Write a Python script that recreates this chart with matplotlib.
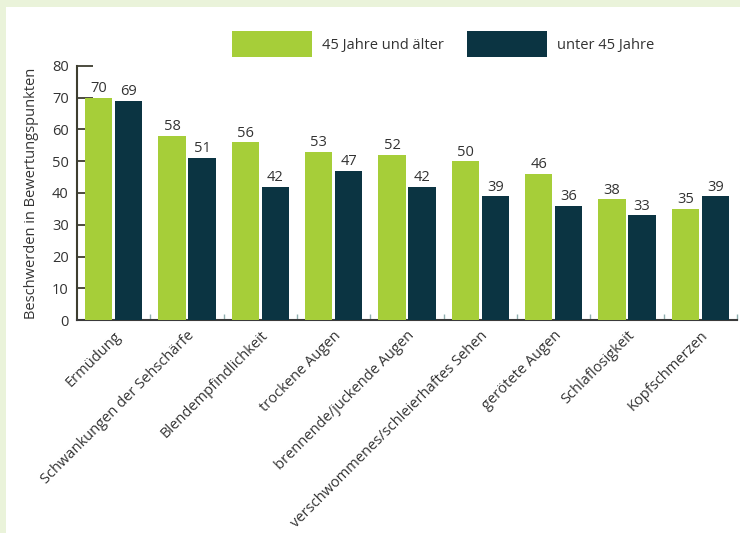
import numpy as np
import matplotlib
matplotlib.use("Agg")
import matplotlib.pyplot as plt
from matplotlib.patches import Rectangle

# ─────────────────────────────────────────────
# DATA
# ─────────────────────────────────────────────
categories = ["Ermüdung", "Schwankungen der Sehschärfe", "Blendempfindlichkeit",
              "trockene Augen", "brennende/juckende Augen",
              "verschwommenes/schleierhaftes Sehen", "gerötete Augen",
              "Schlaflosigkeit", "Kopfschmerzen"]
older   = [70, 58, 56, 53, 52, 50, 46, 38, 35]   # 45 Jahre und älter
younger = [69, 51, 42, 47, 42, 39, 36, 33, 39]   # unter 45 Jahre
series_labels = ["45 Jahre und älter", "unter 45 Jahre"]
y_ticks = [0, 10, 20, 30, 40, 50, 60, 70, 80]

GREEN = "#a6ce39"
DARK  = "#0b3442"
FRAME = "#eaf3da"
TEXT  = "#333333"

plt.rcParams["font.family"] = ["Open Sans", "DejaVu Sans"]

W, H = 740, 533
fig = plt.figure(figsize=(W / 100, H / 100), dpi=100, facecolor="white")
# pale green frame strips (top and left)
fig.patches.append(Rectangle((0, (H - 7) / H), 1, 7 / H, transform=fig.transFigure,
                             facecolor=FRAME, edgecolor="none"))
fig.patches.append(Rectangle((0, 0), 6 / W, 1, transform=fig.transFigure,
                             facecolor=FRAME, edgecolor="none"))

ax = fig.add_axes([77 / W, (H - 320) / H, (737 - 77) / W, (320 - 66) / H])
ax.set_facecolor("none")

x = np.arange(len(categories))
bw = 0.37
off = 0.205
b1 = ax.bar(x - off, older, bw, color=GREEN, zorder=3, label=series_labels[0])
b2 = ax.bar(x + off, younger, bw, color=DARK, zorder=3, label=series_labels[1])

for bars in (b1, b2):
    for r in bars:
        ax.text(r.get_x() + r.get_width() / 2, r.get_height() + 0.5,
                f"{r.get_height():.0f}", ha="center", va="bottom",
                fontsize=10.5, color=TEXT)

ax.set_xlim(-0.5, len(categories) - 0.5)
ax.set_ylim(0, 80)
ax.set_yticks(y_ticks)
ax.tick_params(axis="y", direction="in", length=11.5, width=1.3, color="#3e3e30",
               labelsize=10.5, labelcolor=TEXT, pad=6)

ax.set_xticks(x)
ax.set_xticklabels(categories, rotation=45, ha="right", rotation_mode="anchor",
                   fontsize=10.5, color=TEXT)
ax.tick_params(axis="x", which="major", length=0, pad=6)
ax.set_xticks(np.arange(0.5, len(categories), 1), minor=True)
ax.tick_params(axis="x", which="minor", direction="in", length=4, width=1,
               color="#8fb0b0")

for s in ("top", "right"):
    ax.spines[s].set_visible(False)
ax.spines["left"].set_color("#3e3e30")
ax.spines["left"].set_linewidth(1.5)
ax.spines["bottom"].set_color("#3a3a3a")
ax.spines["bottom"].set_linewidth(1.5)

ax.set_ylabel("Beschwerden in Bewertungspunkten", fontsize=10.5, color=TEXT, labelpad=9)

# legend built by hand to match the wide swatches
fig.patches.append(Rectangle((232 / W, (H - 57) / H), 80 / W, 26 / H,
                             transform=fig.transFigure, facecolor=GREEN, edgecolor="none"))
fig.text(322 / W, (H - 45) / H, series_labels[0], fontsize=10.5, color=TEXT, va="center")
fig.patches.append(Rectangle((467 / W, (H - 57) / H), 80 / W, 26 / H,
                             transform=fig.transFigure, facecolor=DARK, edgecolor="none"))
fig.text(557 / W, (H - 45) / H, series_labels[1], fontsize=10.5, color=TEXT, va="center")

fig.savefig("out.png", dpi=100, facecolor=fig.get_facecolor())
